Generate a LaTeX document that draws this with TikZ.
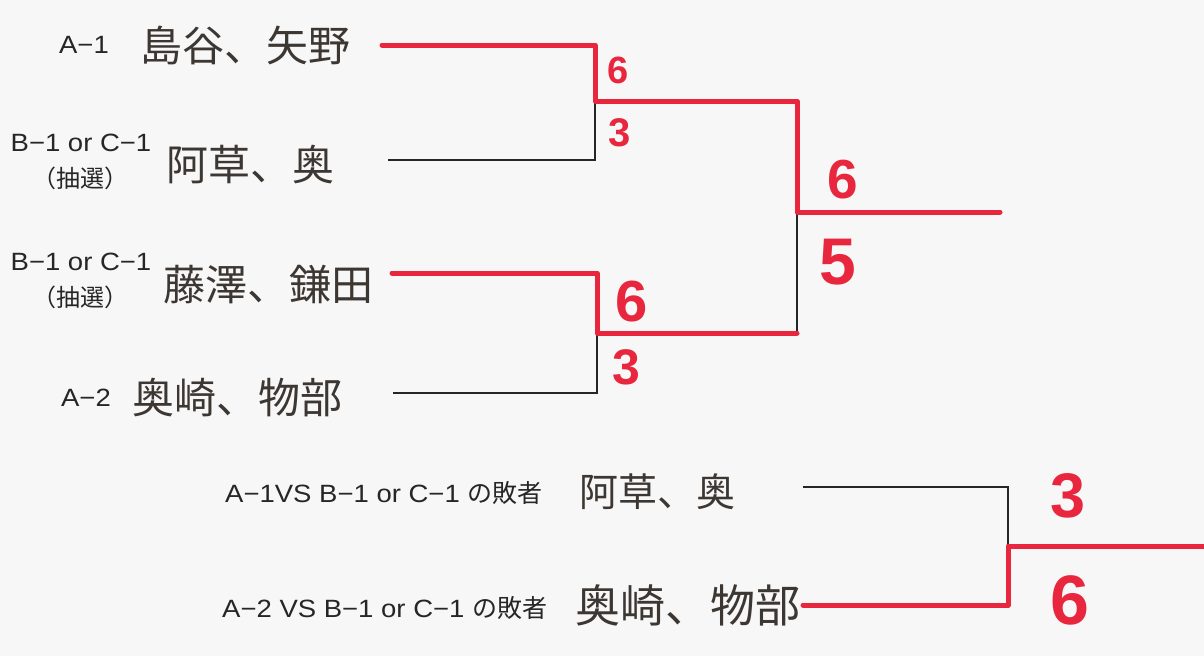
\documentclass[tikz,border=0pt]{standalone}
\usepackage{fontspec}
\setmainfont{Liberation Sans}
\newfontfamily\lab[FakeStretch=1.1]{Liberation Sans}
\newfontfamily\jp{Noto Sans CJK JP}
\definecolor{pen}{RGB}{232,38,62}
\definecolor{paper}{RGB}{247,247,247}
\definecolor{ink}{RGB}{60,55,50}
\tikzset{
  lbl/.style={font=\lab\fontsize{25}{27}\selectfont, inner sep=0pt, text=black!85},
  hand/.style={font=\jp\fontsize{42}{44}\selectfont, inner sep=0pt, text=ink},
  thinline/.style={black!85, line width=1.3pt},
  win/.style={pen, line width=5pt, line cap=round, line join=round},
  score/.style={pen, inner sep=0pt, font=\bfseries},
}
\begin{document}
\begin{tikzpicture}[x=1pt,y=-1pt]
\fill[paper] (0,0) rectangle (1204,656);
\useasboundingbox (0,0) rectangle (1204,656);

% coordinates of the bracket
\coordinate (a1s) at (382,45);  \coordinate (a1e) at (595,45);
\coordinate (b1s) at (388,160); \coordinate (b1e) at (595,160);
\coordinate (m1)  at (595,101); \coordinate (m1e) at (797,101);
\coordinate (c1s) at (392,273); \coordinate (c1e) at (597,273);
\coordinate (d1s) at (393,393); \coordinate (d1e) at (597,393);
\coordinate (m2)  at (597,333); \coordinate (m2e) at (797,333);
\coordinate (fj)  at (797,212); \coordinate (fe)  at (1000,212);
\coordinate (g1s) at (803,487); \coordinate (g1e) at (1008,487);
\coordinate (g2s) at (803,605); \coordinate (g2e) at (1008,605);
\coordinate (hj)  at (1008,546); \coordinate (he) at (1204,546);

% black printed lines
\draw[thinline] (a1s) -- (a1e) -- (b1e) -- (b1s);
\draw[thinline] (c1s) -- (c1e) -- (d1e) -- (d1s);
\draw[thinline] (m1) -- (m1e) -- (m2e) -- (m2);
\draw[thinline] (g1s) -- (g1e) -- (g2e) -- (g2s);
\draw[thinline] (hj) -- (he);

% red winner lines
\draw[win] (a1s) -- (a1e) -- (m1) -- (m1e) -- (fj) -- (fe);
\draw[win] (c1s) -- (c1e) -- (m2) -- (m2e);
\draw[win] (g2s) -- (g2e) -- (hj) -- (he);

% printed labels
\node[lbl] (la1) at (84,45) {A−1};
\node[lbl] (lb1) at (81,143) {B−1 or C−1};
\node[lbl,font=\jp\fontsize{24}{26}\selectfont] (lb1s) at (80,178) {（抽選）};
\node[lbl] (lb2) at (81,262) {B−1 or C−1};
\node[lbl,font=\jp\fontsize{24}{26}\selectfont] (lb2s) at (80,297) {（抽選）};
\node[lbl] (la2) at (86,398) {A−2};
\node[lbl,anchor=west] (lc1) at (225,493) {A−1VS B−1 or C−1 {\jp の敗者}};
\node[lbl,anchor=west] (lc2) at (222,608) {A−2 VS B−1 or C−1 {\jp の敗者}};

% handwritten names
\node[hand] (n1) at (245,45) {島谷、矢野};
\node[hand] (n2) at (250,165) {阿草、奥};
\node[hand] (n3) at (268,285) {藤澤、鎌田};
\node[hand] (n4) at (237,398) {奥崎、物部};
\node[hand,font=\jp\fontsize{39}{41}\selectfont] (n5) at (657,492) {阿草、奥};
\node[hand,font=\jp\fontsize{45}{47}\selectfont] (n6) at (688,605) {奥崎、物部};

% scores
\node[score,font=\bfseries\fontsize{38}{38}\selectfont] (s1) at (618,70) {6};
\node[score,font=\bfseries\fontsize{40}{40}\selectfont] (s2) at (620,133) {3};
\node[score,font=\bfseries\fontsize{55}{55}\selectfont] (s3) at (843,180) {6};
\node[score,font=\bfseries\fontsize{66}{66}\selectfont] (s4) at (838,262) {5};
\node[score,font=\bfseries\fontsize{58}{58}\selectfont] (s5) at (632,302) {6};
\node[score,font=\bfseries\fontsize{50}{50}\selectfont] (s6) at (626,367) {3};
\node[score,font=\bfseries\fontsize{63}{63}\selectfont] (s7) at (1068,496) {3};
\node[score,font=\bfseries\fontsize{70}{70}\selectfont] (s8) at (1070,600) {6};
\end{tikzpicture}
\end{document}
